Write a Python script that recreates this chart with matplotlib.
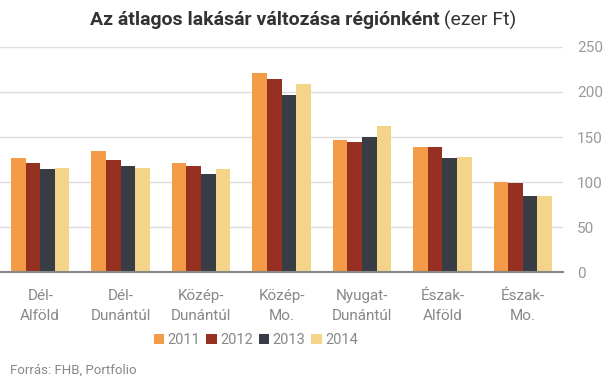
import matplotlib
matplotlib.use("Agg")
import matplotlib.pyplot as plt
import numpy as np
from matplotlib.patches import Patch

plt.rcParams['font.family'] = ['Roboto', 'DejaVu Sans']

categories = ["Dél-\nAlföld", "Dél-\nDunántúl", "Közép-\nDunántúl", "Közép-\nMo.",
              "Nyugat-\nDunántúl", "Észak-\nAlföld", "Észak-\nMo."]
years = ["2011", "2012", "2013", "2014"]
v2011 = [127, 134, 121, 221, 147, 139, 100]
v2012 = [121, 125, 118, 214, 144, 139, 99]
v2013 = [115, 118, 109, 197, 150, 127, 85]
v2014 = [116, 116, 115, 209, 162, 128, 85]
series = [v2011, v2012, v2013, v2014]
colors = ["#F39B46", "#963020", "#383C44", "#F3D488"]

fig = plt.figure(figsize=(6.05, 3.79), dpi=100)
ax = fig.add_axes([0, 0.2823, 0.9306, 0.876 - 0.2823])

x = np.arange(len(categories))
bw = 0.182
for i, (s, c) in enumerate(zip(series, colors)):
    ax.bar(x + (i - 1.5) * bw, s, width=bw, color=c, zorder=3)

ax.set_xlim(-0.5, len(categories) - 0.5)
ax.set_ylim(0, 250)
ax.set_yticks([0, 50, 100, 150, 200, 250])
ax.yaxis.tick_right()
ax.grid(axis='y', color='#dddddd', linewidth=1, zorder=0)
for sp in ['top', 'left', 'right']:
    ax.spines[sp].set_visible(False)
ax.spines['bottom'].set_color('#888888')
ax.spines['bottom'].set_linewidth(1.5)
ax.spines['bottom'].set_zorder(4)
ax.tick_params(axis='y', length=0, pad=10, labelsize=11, labelcolor='#999999')
ax.tick_params(axis='x', length=0, pad=12, labelsize=11, labelcolor='#888888')
ax.set_xticks(x)
ax.set_xticklabels(categories, linespacing=1.6)

# Title in two parts
fig.canvas.draw()
r = fig.canvas.get_renderer()
t1 = fig.text(0, 1 - 20 / 379, "Az átlagos lakásár változása régiónként", fontsize=14,
              fontweight='bold', color='#333333', va='center', ha='left')
t2 = fig.text(0, 1 - 20 / 379, " (ezer Ft)", fontsize=14, color='#333333', va='center', ha='left')
w1 = t1.get_window_extent(r).width
w2 = t2.get_window_extent(r).width
total = w1 + w2
start = 303 - total / 2
t1.set_x(start / 605)
t2.set_x((start + w1) / 605)

handles = [Patch(facecolor=c, label=y) for c, y in zip(colors, years)]
fig.legend(handles=handles, loc='center', bbox_to_anchor=(256 / 605, 1 - 340 / 379), ncol=4,
           frameon=False, fontsize=10.5, handlelength=0.7, handleheight=0.7,
           handletextpad=0.25, columnspacing=0.4, labelcolor='#888888')

fig.text(10 / 605, 1 - 370 / 379, "Forrás: FHB, Portfolio", fontsize=9.5, color='#888888',
         va='center', ha='left')

fig.savefig("out.png", dpi=100)
